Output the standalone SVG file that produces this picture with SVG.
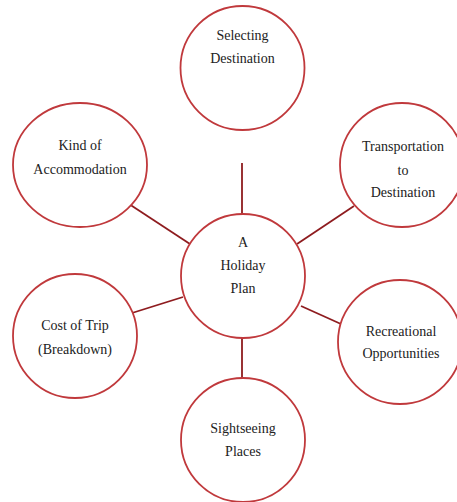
<svg xmlns="http://www.w3.org/2000/svg" width="457" height="502" viewBox="0 0 457 502">
  <style>
    .node { fill: #ffffff; stroke: #c0393c; stroke-width: 1.8; }
    .link { stroke: #8e1c1f; stroke-width: 1.8; fill: none; }
    text { font-family: "Liberation Serif", "Times New Roman", serif; font-size: 14px; fill: #222222; text-anchor: middle; }
  </style>
  <rect width="457" height="502" fill="#ffffff"/>

  <g id="connectors">
    <line class="link" x1="242" y1="163" x2="242" y2="215"/>
    <line class="link" x1="297" y1="244" x2="354" y2="206"/>
    <line class="link" x1="126" y1="202" x2="190" y2="244"/>
    <line class="link" x1="132" y1="313" x2="183" y2="297"/>
    <line class="link" x1="301" y1="306" x2="341" y2="324"/>
    <line class="link" x1="242" y1="338" x2="242" y2="378"/>
  </g>

  <g id="selecting-destination">
    <circle class="node" cx="242.5" cy="68" r="62"/>
    <text x="242.5" y="40">Selecting</text>
    <text x="242.5" y="63">Destination</text>
  </g>

  <g id="transportation">
    <circle class="node" cx="402" cy="165" r="62"/>
    <text x="403" y="151">Transportation</text>
    <text x="403" y="175">to</text>
    <text x="403" y="197">Destination</text>
  </g>

  <g id="accommodation">
    <ellipse class="node" cx="80" cy="165" rx="67" ry="62"/>
    <text x="80" y="150">Kind of</text>
    <text x="80" y="174">Accommodation</text>
  </g>

  <g id="holiday-plan">
    <circle class="node" cx="243" cy="276" r="62"/>
    <text x="243" y="247">A</text>
    <text x="243" y="270">Holiday</text>
    <text x="243" y="293">Plan</text>
  </g>

  <g id="cost-of-trip">
    <circle class="node" cx="75" cy="336" r="62"/>
    <text x="75" y="330">Cost of Trip</text>
    <text x="75" y="354">(Breakdown)</text>
  </g>

  <g id="recreational">
    <circle class="node" cx="400" cy="342" r="62"/>
    <text x="401" y="336">Recreational</text>
    <text x="401" y="358">Opportunities</text>
  </g>

  <g id="sightseeing">
    <circle class="node" cx="243" cy="440" r="62"/>
    <text x="243" y="433">Sightseeing</text>
    <text x="243" y="456">Places</text>
  </g>
</svg>
